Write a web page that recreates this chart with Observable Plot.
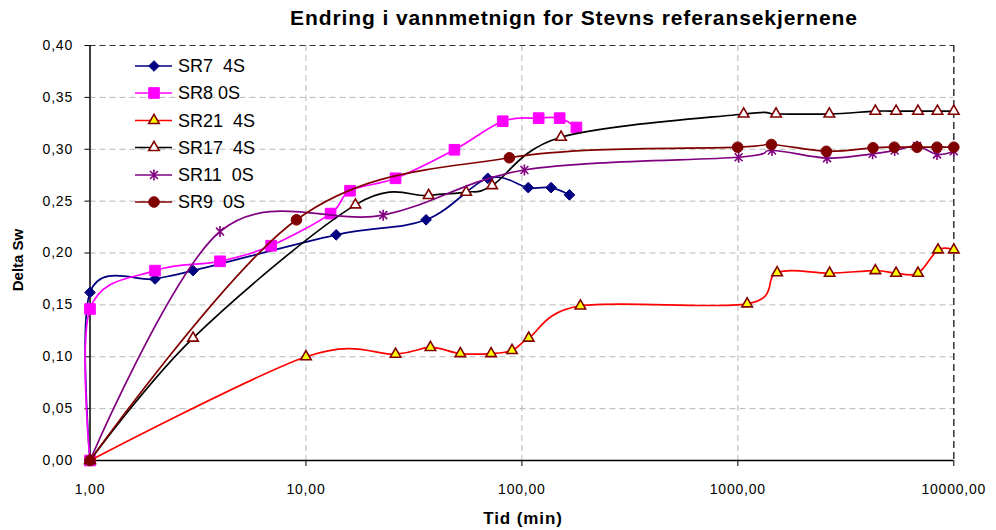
<!DOCTYPE html>
<html>
<head>
<meta charset="utf-8">
<script src="https://cdn.jsdelivr.net/npm/d3@7"></script>
<script src="https://cdn.jsdelivr.net/npm/@observablehq/plot@0.6"></script>
<style>
  html, body { margin: 0; padding: 0; background: white; }
  #wrap { position: relative; width: 996px; height: 530px; font-family: 'Liberation Sans', Arial, sans-serif; }
  #wrap > svg { position: absolute; left: 0; top: 0; }
</style>
</head>
<body>
<div id="wrap"></div>
<script>
// ---- Data ----
const titleText = "Endring i vannmetnign for Stevns referansekjernene";
const xTitle = "Tid (min)";
const yTitle = "Delta Sw";
const xTicks = [1, 10, 100, 1000, 10000];
const yTicks = [0, 0.05, 0.10, 0.15, 0.20, 0.25, 0.30, 0.35, 0.40];
const yGrid = [0.05, 0.10, 0.15, 0.20, 0.25, 0.30, 0.35];
const xGrid = [10, 100, 1000];

const seriesNames = ["SR7  4S", "SR8 0S", "SR21  4S", "SR17  4S", "SR11  0S", "SR9  0S"];

const sr7_x = [1, 1, 2, 3, 13.8, 36, 69.5, 107, 136.5, 166];
const sr7_y = [0, 0.162, 0.175, 0.183, 0.2175, 0.232, 0.272, 0.263, 0.263, 0.256];

const sr8_x = [1, 1, 2, 4, 6.9, 13, 16, 26, 48.7, 81.5, 119.6, 149.6, 178.8];
const sr8_y = [0, 0.146, 0.183, 0.192, 0.207, 0.238, 0.26, 0.272, 0.2995, 0.327, 0.330, 0.330, 0.321];

const sr21_x = [1, 10, 26, 37.7, 51.9, 72, 90, 107.5, 186.6, 1104, 1520, 2661, 4332, 5405, 6826, 8450, 10000];
const sr21_y = [0, 0.100, 0.1025, 0.109, 0.103, 0.103, 0.106, 0.118, 0.149, 0.151, 0.181, 0.1805, 0.183, 0.1805, 0.1805, 0.203, 0.203];

const sr17_x = [1, 3, 16.95, 37, 55.2, 72.8, 151.8, 1064, 1503, 2653, 4332, 5405, 6826, 8400, 10000];
const sr17_y = [0, 0.118, 0.2464, 0.2554, 0.2586, 0.265, 0.3116, 0.334, 0.334, 0.334, 0.3367, 0.3367, 0.3367, 0.3367, 0.3367];

const sr11_x = [1, 4, 22.8, 102.7, 1008, 1439, 2588, 4208, 5322, 6757, 8360, 10000];
const sr11_y = [0, 0.2207, 0.2365, 0.280, 0.2923, 0.2988, 0.2914, 0.2956, 0.2988, 0.303, 0.295, 0.298];

const sr9_x = [1, 9.04, 87.5, 998, 1430, 2570, 4226, 5304, 6757, 8360, 10000];
const sr9_y = [0, 0.232, 0.2918, 0.302, 0.3046, 0.298, 0.3014, 0.302, 0.302, 0.302, 0.302];

// ---- Build tables ----
const toRows = (xs, ys) => xs.map((x, i) => ({x, y: ys[i]}));

// Excel-like asterisk: vertical bar + X
const excelAsterisk = {
  draw(ctx, size) {
    const r = Math.sqrt(size / Math.PI);
    const d = r * 0.72;
    ctx.moveTo(0, -r); ctx.lineTo(0, r);
    ctx.moveTo(-d, -d); ctx.lineTo(d, d);
    ctx.moveTo(-d, d); ctx.lineTo(d, -d);
  }
};

const styles = [
  {line: "#000080", symbol: "diamond2", r: 4.8, fill: "#000080", stroke: "#000080", sw: 1},
  {line: "#FF00FF", symbol: "square", r: 6, fill: "#FF00FF", stroke: "#FF00FF", sw: 1},
  {line: "#FF0000", symbol: "triangle", r: 3.9, fill: "#FFFF00", stroke: "#800000", sw: 1.6},
  {line: "#000000", symbol: "triangle", r: 3.9, fill: "#FFFFFF", stroke: "#800000", sw: 1.6},
  {line: "#800080", symbol: excelAsterisk, r: 5.5, fill: "none", stroke: "#800080", sw: 1.6},
  {line: "#800000", symbol: "circle", r: 5.3, fill: "#800000", stroke: "#800000", sw: 1}
];

const series = [
  toRows(sr7_x, sr7_y),
  toRows(sr8_x, sr8_y),
  toRows(sr21_x, sr21_y),
  toRows(sr17_x, sr17_y),
  toRows(sr11_x, sr11_y),
  toRows(sr9_x, sr9_y)
];

const fmt = d => d.toFixed(2).replace(".", ",");

const seriesMarks = series.flatMap((rows, i) => {
  const s = styles[i];
  return [
    Plot.line(rows, {x: "x", y: "y", stroke: s.line, strokeWidth: 1.7, curve: "cardinal"}),
    Plot.dot(rows, {x: "x", y: "y", symbol: s.symbol, r: s.r, fill: s.fill, stroke: s.stroke, strokeWidth: s.sw})
  ];
});

const chart = Plot.plot({
  width: 996,
  height: 530,
  marginLeft: 89.5,
  marginRight: 42.7,
  marginTop: 45,
  marginBottom: 70,
  style: {fontFamily: "'Liberation Sans', Arial, sans-serif", fontSize: "14px", letterSpacing: "0.8px", background: "white", color: "black", overflow: "visible"},
  x: {type: "log", domain: [1, 10000], ticks: xTicks, tickFormat: fmt, tickSize: 6, tickPadding: 18, label: null},
  y: {domain: [0, 0.4], ticks: yTicks, tickFormat: fmt, tickSize: 5, tickPadding: 12, label: null},
  marks: [
    Plot.ruleY(yGrid, {stroke: "#b8b8b8", strokeWidth: 1, strokeDasharray: "6,4"}),
    Plot.ruleX(xGrid, {stroke: "#b8b8b8", strokeWidth: 1, strokeDasharray: "6,4"}),
    Plot.ruleY([0.4], {stroke: "#333", strokeWidth: 1.2, strokeDasharray: "6,4"}),
    Plot.ruleX([10000], {stroke: "#333", strokeWidth: 1.5, strokeDasharray: "7,4"}),
    Plot.ruleY([0], {stroke: "black", strokeWidth: 1.5}),
    Plot.ruleX([1], {stroke: "black", strokeWidth: 1.5}),
    ...seriesMarks
  ]
});

const wrap = document.getElementById("wrap");
wrap.appendChild(chart);

// ---- Overlay: title, axis titles, legend ----
const ov = d3.select(wrap).append("svg")
  .attr("width", 996).attr("height", 530)
  .style("pointer-events", "none")
  .style("font-family", "'Liberation Sans', Arial, sans-serif");

ov.append("text").attr("x", 574).attr("y", 25)
  .attr("text-anchor", "middle").attr("font-weight", "bold")
  .attr("font-size", 21).attr("letter-spacing", "0.9px")
  .text(titleText);

ov.append("text").attr("x", 523).attr("y", 524)
  .attr("text-anchor", "middle").attr("font-weight", "bold")
  .attr("font-size", 17).attr("letter-spacing", "0.9px")
  .text(xTitle);

ov.append("text").attr("transform", "translate(23,260) rotate(-90)")
  .attr("text-anchor", "middle").attr("font-weight", "bold")
  .attr("font-size", 15)
  .text(yTitle);

const legRowY = [66, 93, 120.5, 147.5, 175, 202];
seriesNames.forEach((name, i) => {
  const s = styles[i];
  const y = legRowY[i];
  const g = ov.append("g");
  g.append("line").attr("x1", 135).attr("x2", 172).attr("y1", y).attr("y2", y)
    .attr("stroke", s.line).attr("stroke-width", 1.7);
  const type = typeof s.symbol === "string"
    ? {circle: d3.symbolCircle, square: d3.symbolSquare, diamond2: d3.symbolDiamond2, triangle: d3.symbolTriangle}[s.symbol]
    : s.symbol;
  g.append("path").attr("transform", `translate(154,${y})`)
    .attr("d", d3.symbol(type, Math.PI * s.r * s.r)())
    .attr("fill", s.fill).attr("stroke", s.stroke).attr("stroke-width", s.sw);
  g.append("text").attr("x", 178).attr("y", y).attr("dy", "0.36em")
    .attr("font-size", 18).style("white-space", "pre")
    .text(name);
});
</script>
</body>
</html>
